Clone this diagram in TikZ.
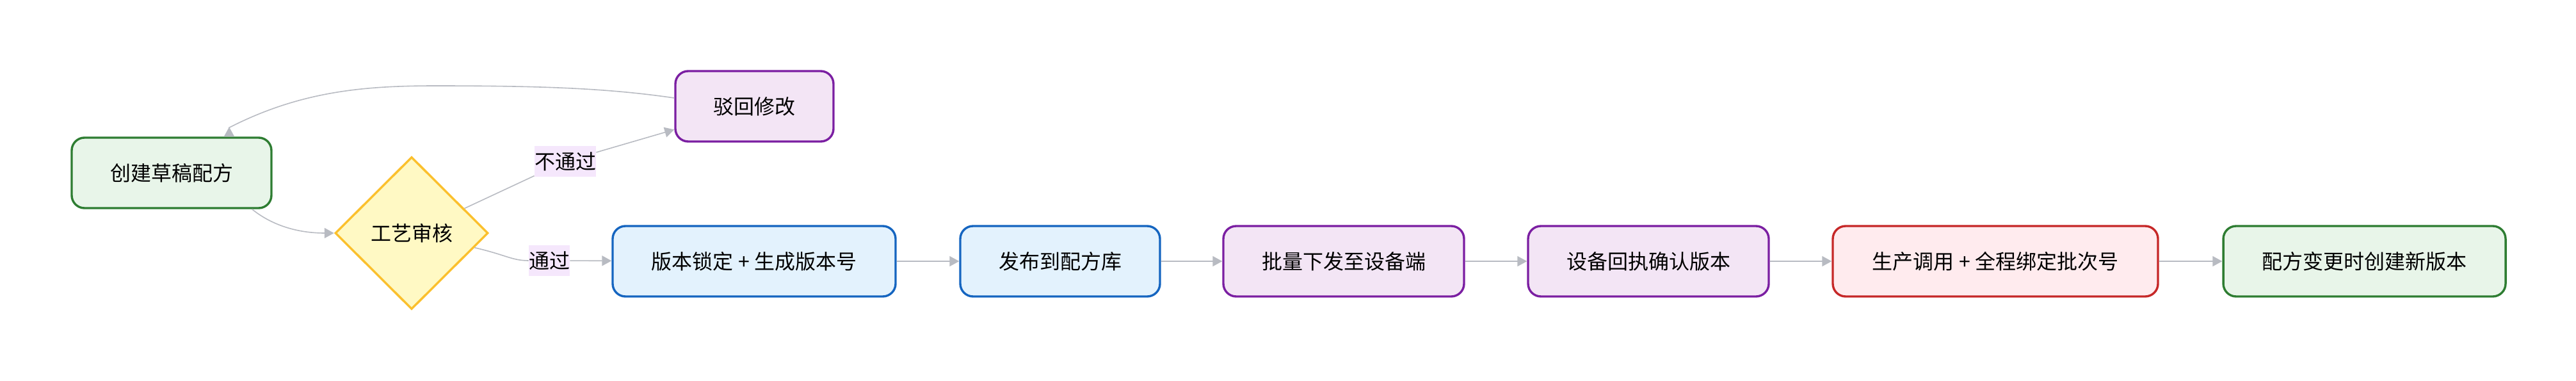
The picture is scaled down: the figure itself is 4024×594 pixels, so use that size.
\documentclass[tikz,border=0pt]{standalone}
\usepackage{fontspec}
\setmainfont{Noto Sans CJK SC}
\usetikzlibrary{shapes.geometric,arrows.meta}
\definecolor{greenline}{HTML}{2E7D32}
\definecolor{greenfill}{HTML}{E8F5E9}
\definecolor{yellowline}{HTML}{FBC02D}
\definecolor{yellowfill}{HTML}{FFF9C4}
\definecolor{purpleline}{HTML}{7B1FA2}
\definecolor{purplefill}{HTML}{F3E5F5}
\definecolor{blueline}{HTML}{1565C0}
\definecolor{bluefill}{HTML}{E3F2FD}
\definecolor{redline}{HTML}{C62828}
\definecolor{redfill}{HTML}{FFEBEE}
\definecolor{edgegray}{HTML}{B8BBC2}
\definecolor{labelfill}{HTML}{F5E7FC}
\begin{document}
\begin{tikzpicture}[x=0.5pt, y=-0.5pt, font=\fontsize{16pt}{19pt}\selectfont,
    box/.style={rectangle, rounded corners=10pt, line width=1.7pt, minimum height=55pt, inner sep=0pt},
    greenbox/.style={box, draw=greenline, fill=greenfill},
    purplebox/.style={box, draw=purpleline, fill=purplefill},
    bluebox/.style={box, draw=blueline, fill=bluefill},
    redbox/.style={box, draw=redline, fill=redfill},
    check/.style={diamond, draw=yellowline, fill=yellowfill, line width=1.7pt, minimum width=119.5pt, minimum height=119pt, inner sep=0pt},
    lbl/.style={fill=labelfill, inner xsep=0pt, inner ysep=0pt, minimum height=24pt},
    edge/.style={draw=edgegray, line width=0.8pt, -{Triangle[length=7.5pt, width=8pt]}}]
  \useasboundingbox (0,0) rectangle (4024,594);
  \node[greenbox, minimum width=156pt] (draft) at (268,270) {创建草稿配方};
  \node[check] (review) at (643,364) {工艺审核};
  \node[purplebox, minimum width=123.5pt] (reject) at (1178.5,166) {驳回修改};
  \node[bluebox, minimum width=221pt] (lock) at (1178,408) {版本锁定 + 生成版本号};
  \node[bluebox, minimum width=156pt] (publish) at (1656,408) {发布到配方库};
  \node[purplebox, minimum width=188pt] (batch) at (2099,408) {批量下发至设备端};
  \node[purplebox, minimum width=188pt] (confirm) at (2575,408) {设备回执确认版本};
  \node[redbox, minimum width=254pt] (produce) at (3117,408) {生产调用 + 全程绑定批次号};
  \node[greenbox, minimum width=220.5pt] (newver) at (3693.5,408) {配方变更时创建新版本};
  \node[lbl] (nopass) at (883,252) {不通过};
  \node[lbl] (pass) at (858,407) {通过};
  \coordinate (backtip) at ([xshift=45pt, yshift=7pt]draft.north);
  \draw[edge] ([xshift=-16pt]draft.south east) .. controls (425,352) and (465,364) .. (review.west);
  \draw[edge] (review) -- (nopass) -- (reject);
  \draw[edge] (review) .. controls (790,398) and (800,407) .. (pass) -- (lock);
  \draw[edge, -{Triangle[length=7.5pt, width=8pt, reversed]}] ([yshift=6.5pt]reject.west) .. controls (950,138) and (850,134) .. (680,134) .. controls (570,134) and (470,142) .. (backtip) -- ([xshift=45pt]draft.north);
  \draw[edge] (lock) -- (publish);
  \draw[edge] (publish) -- (batch);
  \draw[edge] (batch) -- (confirm);
  \draw[edge] (confirm) -- (produce);
  \draw[edge] (produce) -- (newver);
\end{tikzpicture}
\end{document}
